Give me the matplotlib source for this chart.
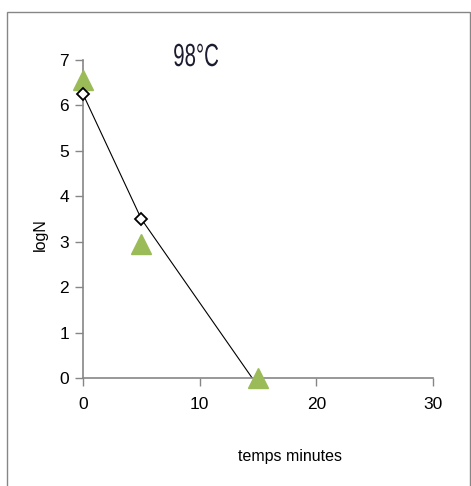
import matplotlib
matplotlib.use("Agg")
import matplotlib.pyplot as plt
from matplotlib.patches import Rectangle
from matplotlib.patheffects import AbstractPathEffect
from matplotlib.transforms import Affine2D

plt.rcParams['font.family'] = ['Liberation Sans', 'DejaVu Sans']

# fitted line (open diamonds)
fit_t = [0, 5, 14.5]
fit_logn = [6.25, 3.5, 0]
# measured values (triangles)
obs_t = [0, 5, 15]
obs_logn = [6.55, 2.95, 0]

xticks = [0, 10, 20, 30]
yticks = [0, 1, 2, 3, 4, 5, 6, 7]


class Narrow(AbstractPathEffect):
    """Squeeze glyphs horizontally about their centre."""

    def __init__(self, sx):
        super().__init__()
        self.sx = sx

    def draw_path(self, renderer, gc, tpath, affine, rgbFace=None):
        ext = tpath.get_extents(affine)
        cx = 0.5 * (ext.x0 + ext.x1)
        squeeze = Affine2D().translate(-cx, 0).scale(self.sx, 1).translate(cx, 0)
        renderer.draw_path(gc, tpath, affine + squeeze, rgbFace)


fig = plt.figure(figsize=(4.71, 4.86), dpi=100)
fig.patches.append(Rectangle((7 / 471, -0.01), 463 / 471, 1 - 12 / 486 + 0.01,
                             transform=fig.transFigure, fill=False,
                             edgecolor='#868686', linewidth=1.0))

ax = fig.add_axes([83 / 471, 1 - 378 / 486, 350 / 471, 318 / 486])
ax.plot(fit_t, fit_logn, color='black', linewidth=0.8, zorder=2)
ax.plot(obs_t, obs_logn, linestyle='none', marker='^', markersize=14,
        color='#9BBB59', zorder=3, clip_on=False)
ax.plot(fit_t[:2], fit_logn[:2], linestyle='none', marker='D', markersize=6,
        markerfacecolor='white', markeredgecolor='black', markeredgewidth=1.3,
        zorder=4, clip_on=False)

ax.set_xlim(0, 30)
ax.set_ylim(0, 7)
ax.set_xticks(xticks)
ax.set_yticks(yticks)
for side in ('top', 'right'):
    ax.spines[side].set_visible(False)
for side in ('left', 'bottom'):
    ax.spines[side].set_color('#868686')
    ax.spines[side].set_linewidth(1.2)
ax.tick_params(axis='both', direction='out', length=6, width=1, color='#868686',
               labelsize=12.5, labelcolor='black')
ax.tick_params(axis='x', pad=8)
ax.tick_params(axis='y', pad=4)

fig.text(290 / 471, 1 - 456 / 486, 'temps minutes', ha='center', va='center',
         fontsize=11.5)
fig.text(40 / 471, 1 - 235 / 486, 'logN', ha='center', va='center',
         rotation=90, fontsize=11.5)
fig.text(196 / 471, 1 - 58 / 486, '98°C', ha='center', va='center',
         fontsize=23, color='#1c1c30', path_effects=[Narrow(0.64)])

fig.savefig('out.png', dpi=100)
